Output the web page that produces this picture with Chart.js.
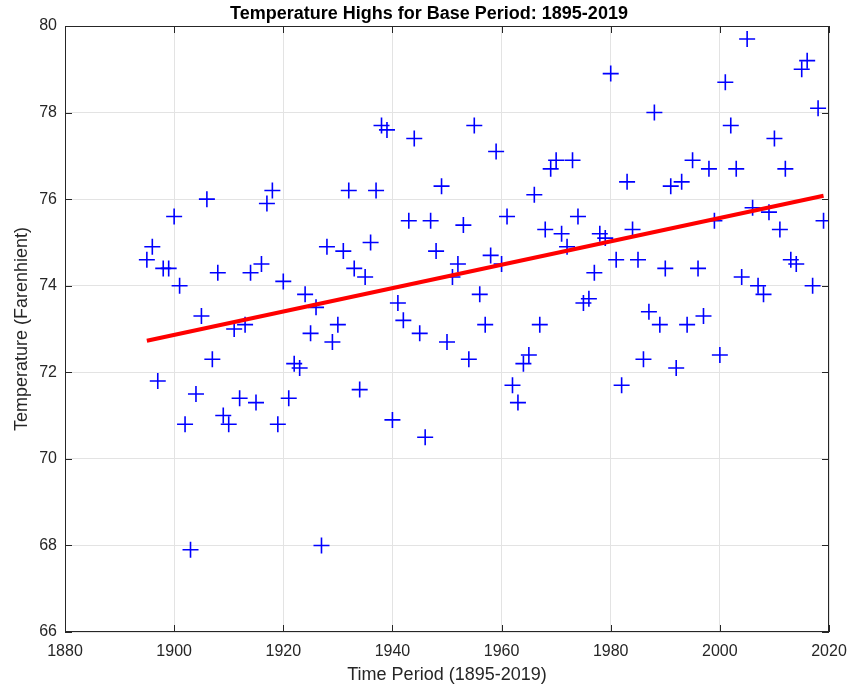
<!DOCTYPE html>
<html lang="en">
<head>
    <meta charset="UTF-8">
    <title>Temperature Highs</title>
    <script src="https://cdn.jsdelivr.net/npm/chart.js"></script>
    <style>
        html, body {
            margin: 0;
            padding: 0;
            background: #fff;
        }

        #wrap {
            width: 853px;
            height: 687px;
        }
    </style>
</head>
<body>
    <div id="wrap">
        <canvas id="tempChart" width="853" height="687"></canvas>
    </div>

    <script>
        const years = [
            1895, 1896, 1897, 1898, 1899, 1900, 1901, 1902, 1903, 1904,
            1905, 1906, 1907, 1908, 1909, 1910, 1911, 1912, 1913, 1914,
            1915, 1916, 1917, 1918, 1919, 1920, 1921, 1922, 1923, 1924,
            1925, 1926, 1927, 1928, 1929, 1930, 1931, 1932, 1933, 1934,
            1935, 1936, 1937, 1938, 1939, 1940, 1941, 1942, 1943, 1944,
            1945, 1946, 1947, 1948, 1949, 1950, 1951, 1952, 1953, 1954,
            1955, 1956, 1957, 1958, 1959, 1960, 1961, 1962, 1963, 1964,
            1965, 1966, 1967, 1968, 1969, 1970, 1971, 1972, 1973, 1974,
            1975, 1976, 1977, 1978, 1979, 1980, 1981, 1982, 1983, 1984,
            1985, 1986, 1987, 1988, 1989, 1990, 1991, 1992, 1993, 1994,
            1995, 1996, 1997, 1998, 1999, 2000, 2001, 2002, 2003, 2004,
            2005, 2006, 2007, 2008, 2009, 2010, 2011, 2012, 2013, 2014,
            2015, 2016, 2017, 2018, 2019
        ];

        const highs = [
            74.6, 74.9, 71.8, 74.4, 74.4, 75.6, 74.0, 70.8, 67.9, 71.5,
            73.3, 76.0, 72.3, 74.3, 71.0, 70.8, 73.0, 71.4, 73.1, 74.3,
            71.3, 74.5, 75.9, 76.2, 70.8, 74.1, 71.4, 72.2, 72.1, 73.8,
            72.9, 73.5, 68.0, 74.9, 72.7, 73.1, 74.8, 76.2, 74.4, 71.6,
            74.2, 75.0, 76.2, 77.7, 77.6, 70.9, 73.6, 73.2, 75.5, 77.4,
            72.9, 70.5, 75.5, 74.8, 76.3, 72.7, 74.2, 74.5, 75.4, 72.3,
            77.7, 73.8, 73.1, 74.7, 77.1, 74.5, 75.6, 71.7, 71.3, 72.2,
            72.4, 76.1, 73.1, 75.3, 76.7, 76.9, 75.2, 74.9, 76.9, 75.6,
            73.6, 73.7, 74.3, 75.2, 75.1, 78.9, 74.6, 71.7, 76.4, 75.3,
            74.6, 72.3, 73.4, 78.0, 73.1, 74.4, 76.3, 72.1, 76.4, 73.1,
            76.9, 74.4, 73.3, 76.7, 75.5, 72.4, 78.7, 77.7, 76.7, 74.2,
            79.7, 75.8, 74.0, 73.8, 75.7, 77.4, 75.3, 76.7, 74.6, 74.5,
            79.0, 79.2, 74.0, 78.1, 75.5
        ];

        // trend line end points
        const trendYears = [1895, 2019];
        const trendValues = [72.73, 76.08];

        const xTicks = [1880, 1900, 1920, 1940, 1960, 1980, 2000, 2020];
        const yTicks = [66, 68, 70, 72, 74, 76, 78, 80];

        const titleText = 'Temperature Highs for Base Period: 1895-2019';
        const axisColor = '#262626';
        const font = 'Liberation Sans, Arial, Helvetica, sans-serif';

        // box round the plot with inward tick marks, plus the title (matlab style)
        const framePlugin = {
            id: 'frame',
            afterDraw(chart) {
                const { ctx, chartArea: a, scales } = chart;
                const len = 7;
                ctx.save();
                ctx.strokeStyle = axisColor;
                ctx.lineWidth = 1;
                ctx.strokeRect(a.left + 0.5, a.top + 0.5, a.right - a.left - 1, a.bottom - a.top - 1);
                ctx.beginPath();
                xTicks.forEach(t => {
                    const x = Math.round(scales.x.getPixelForValue(t)) + 0.5;
                    ctx.moveTo(x, a.bottom);
                    ctx.lineTo(x, a.bottom - len);
                    ctx.moveTo(x, a.top);
                    ctx.lineTo(x, a.top + len);
                });
                yTicks.forEach(t => {
                    const y = Math.round(scales.y.getPixelForValue(t)) + 0.5;
                    ctx.moveTo(a.left, y);
                    ctx.lineTo(a.left + len, y);
                    ctx.moveTo(a.right, y);
                    ctx.lineTo(a.right - len, y);
                });
                ctx.stroke();

                ctx.fillStyle = '#000';
                ctx.font = 'bold 18px ' + font;
                ctx.textAlign = 'center';
                ctx.textBaseline = 'middle';
                ctx.fillText(titleText, 429, 14);
                ctx.restore();
            }
        };

        const ctx = document.getElementById('tempChart').getContext('2d');
        const tempChart = new Chart(ctx, {
            type: 'scatter',
            data: {
                datasets: [
                    {
                        label: 'Highs',
                        data: years.map((yr, i) => ({ x: yr, y: highs[i] })),
                        pointStyle: 'cross',
                        pointRadius: 8,
                        pointHoverRadius: 8,
                        borderColor: '#0000ff',
                        backgroundColor: '#0000ff',
                        pointBorderWidth: 1.6,
                        order: 2
                    },
                    {
                        type: 'line',
                        label: 'Trend',
                        data: trendYears.map((yr, i) => ({ x: yr, y: trendValues[i] })),
                        borderColor: '#ff0000',
                        borderWidth: 4,
                        pointRadius: 0,
                        fill: false,
                        order: 1
                    }
                ]
            },
            options: {
                responsive: false,
                animation: false,
                layout: {
                    padding: { left: 0, right: 24, top: 26, bottom: 0 }
                },
                plugins: {
                    legend: { display: false },
                    tooltip: { enabled: false },
                    title: { display: false }
                },
                scales: {
                    x: {
                        type: 'linear',
                        min: 1880,
                        max: 2020,
                        afterBuildTicks: scale => {
                            scale.ticks = xTicks.map(v => ({ value: v }));
                        },
                        afterFit: scale => {
                            scale.height = 55;
                            scale.paddingLeft = 0;
                            scale.paddingRight = 0;
                        },
                        ticks: {
                            color: axisColor,
                            font: { family: font, size: 16 },
                            padding: 10,
                            maxRotation: 0,
                            callback: v => String(v)
                        },
                        grid: {
                            color: '#e3e3e3',
                            drawTicks: false
                        },
                        border: { display: false },
                        title: {
                            display: true,
                            text: 'Time Period (1895-2019)',
                            color: axisColor,
                            font: { family: font, size: 18 },
                            padding: { top: 4, bottom: 1 }
                        }
                    },
                    y: {
                        min: 66,
                        max: 80,
                        afterBuildTicks: scale => {
                            scale.ticks = yTicks.map(v => ({ value: v }));
                        },
                        afterFit: scale => {
                            scale.width = 65;
                            scale.paddingTop = 0;
                            scale.paddingBottom = 0;
                        },
                        ticks: {
                            color: axisColor,
                            font: { family: font, size: 16 },
                            padding: 8
                        },
                        grid: {
                            color: '#e3e3e3',
                            drawTicks: false
                        },
                        border: { display: false },
                        title: {
                            display: true,
                            text: 'Temperature (Farenhient)',
                            color: axisColor,
                            font: { family: font, size: 18 },
                            padding: { top: 11, bottom: 0 }
                        }
                    }
                }
            },
            plugins: [framePlugin]
        });
    </script>
</body>
</html>
